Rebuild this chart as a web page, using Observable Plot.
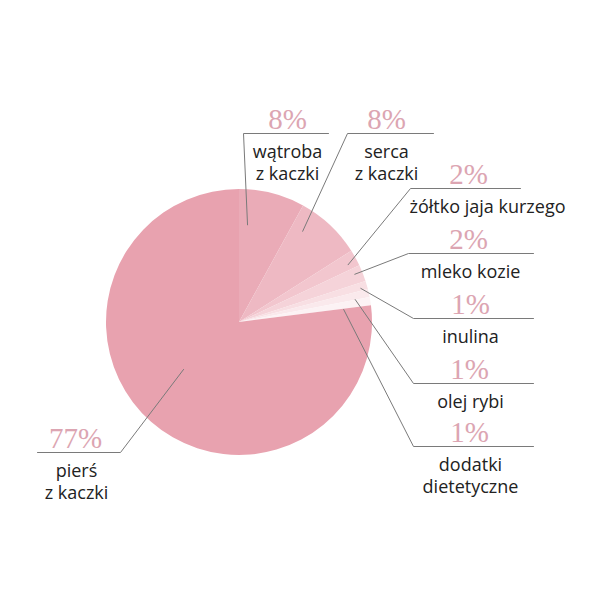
<!DOCTYPE html>
<html><head><meta charset="utf-8">
<script src="https://cdn.jsdelivr.net/npm/d3@7"></script>
<script src="https://cdn.jsdelivr.net/npm/@observablehq/plot@0.6"></script>
<style>body{margin:0;background:#fff}</style>
</head><body><div id="chart"></div>
<script>
// data
const names = ["wątroba\nz kaczki","serca\nz kaczki","żółtko jaja kurzego","mleko kozie","inulina","olej rybi","dodatki\ndietetyczne","pierś\nz kaczki"];
const shares = [8, 8, 2, 2, 1, 1, 1, 77];
const percentLabels = ["8%","8%","2%","2%","1%","1%","1%","77%"];
const colors = ["#eaabb7","#eeb9c3","#f2c6ce","#f5d3d9","#f8dfe3","#fae9ec","#fcf2f4","#e8a2af"];

// layout (pixel space)
const center = {x: 239, y: 322, r: 133};
const leaderAngle = [4.7, 34.7, 62, 67.3, 74.3, 78.8, 82.9, 230];
const leaderRadius = [98, 111, 123, 125, 126, 118, 105, 73];
const elbowX = [243, 347, 410, 408, 413, 413, 413, 120];
const lineY = [133, 133, 188, 253, 318, 383, 446, 452];
const lineEndX = [328, 433, 520, 533, 533, 533, 533, 37];
const pctX = [287, 386, 468, 468, 470, 469, 469, 75];
const textX = [287, 386, 487, 470, 470, 470, 470, 76];

const data = names.map((n, i) => ({name: n, share: shares[i], pct: percentLabels[i], color: colors[i], i}));

const leaders = [];
data.forEach((d, i) => {
  const a = leaderAngle[i] * Math.PI / 180;
  leaders.push({k: i, x: center.x + leaderRadius[i] * Math.sin(a), y: center.y - leaderRadius[i] * Math.cos(a)});
  leaders.push({k: i, x: elbowX[i], y: lineY[i]});
  leaders.push({k: i, x: lineEndX[i], y: lineY[i]});
});

function pieMark(index, scales) {
  const cx = scales.x(center.x), cy = scales.y(center.y);
  const rr = scales.x(center.x + center.r) - cx;
  const arcs = d3.pie().sort(null).value(d => d.share)(data);
  const g = d3.create("svg:g").attr("transform", `translate(${cx},${cy})`);
  g.selectAll("path").data(arcs).join("path")
    .attr("d", d3.arc().innerRadius(0).outerRadius(rr))
    .attr("fill", d => d.data.color);
  return g.node();
}

const fsLabel = 18;
const chart = Plot.plot({
  width: 600, height: 600, margin: 0,
  x: {domain: [0, 600], range: [0, 600], axis: null},
  y: {domain: [0, 600], range: [0, 600], axis: null},
  marks: [
    pieMark,
    Plot.line(leaders, {x: "x", y: "y", z: "k", stroke: "#7a7a7a", strokeWidth: 1}),
    Plot.text(data, {x: (d) => pctX[d.i], y: (d) => lineY[d.i] - 5, text: "pct", lineAnchor: "bottom",
      fontFamily: "Liberation Serif", fontSize: 29, fill: "#dca5b2"}),
    Plot.text(data, {x: (d) => textX[d.i], y: (d) => lineY[d.i] + 21 - 0.71 * fsLabel, text: "name", lineAnchor: "top",
      fontFamily: "Open Sans", fontSize: fsLabel, lineHeight: 1.25, fill: "#222"})
  ]
});
document.getElementById("chart").append(chart);
</script>
</body></html>
